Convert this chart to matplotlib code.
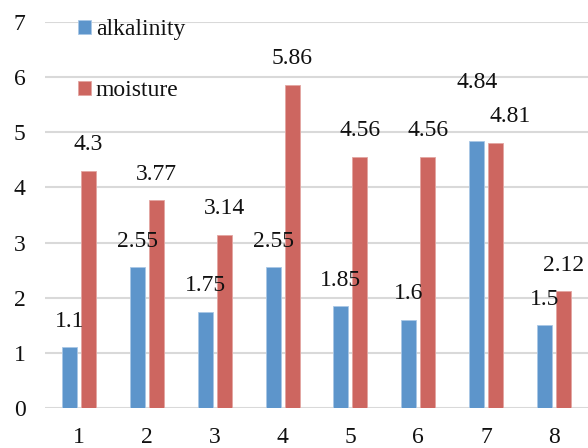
import matplotlib
matplotlib.use("Agg")
import matplotlib.pyplot as plt
import numpy as np

# Data
categories = ["1", "2", "3", "4", "5", "6", "7", "8"]
alkalinity = [1.1, 2.55, 1.75, 2.55, 1.85, 1.6, 4.84, 1.5]
moisture = [4.3, 3.77, 3.14, 5.86, 4.56, 4.56, 4.81, 2.12]
series_names = ["alkalinity", "moisture"]

BLUE = "#5D95CB"
RED = "#CD6660"
GRID = "#D9D9D9"
FONT = "Liberation Serif"
FS = 17

plt.rcParams["font.family"] = [FONT, "DejaVu Serif"]

fig = plt.figure(figsize=(5.88, 4.48), dpi=100)
ax = fig.add_axes([45 / 588, 40 / 448, 543 / 588, 386 / 448])

x = np.arange(1, len(categories) + 1)
off = 0.14
w = 0.22
b1 = ax.bar(x - off, alkalinity, w, color=BLUE, edgecolor="#A9C7E6", linewidth=0.6,
            label=series_names[0], zorder=3)
b2 = ax.bar(x + off, moisture, w, color=RED, edgecolor="#E3A5A1", linewidth=0.6,
            label=series_names[1], zorder=3)

ax.set_xlim(0.5, 8.5)
ax.set_ylim(0, 7)
ax.set_yticks(range(0, 8))
ax.set_xticks(x)
ax.set_xticklabels(categories)
ax.tick_params(axis="both", length=0, labelsize=FS, labelcolor="#111111")
ax.tick_params(axis="y", pad=14)
ax.tick_params(axis="x", pad=14)
for s in ax.spines.values():
    s.set_visible(False)
ax.yaxis.grid(True, color=GRID, linewidth=1.5, zorder=0)
ax.set_axisbelow(True)

# value labels, lifted above each bar; a couple nudged to avoid overlap
lift = 0.47
nudge = {(0, 6): (0.0, 0.6), (1, 6): (0.21, 0.0)}
for si, (vals, sign) in enumerate([(alkalinity, -1), (moisture, 1)]):
    for i, v in enumerate(vals):
        dx, dy = nudge.get((si, i), (0.0, 0.0))
        ax.text(x[i] + sign * off + dx, v + lift + dy, f"{v:g}",
                ha="center", va="center", fontsize=FS, color="#111111", zorder=4)

leg = ax.legend(handles=[b1, b2], loc="upper left",
                bbox_to_anchor=(78 / 588, 1 - 19 / 448), bbox_transform=fig.transFigure,
                frameon=False, fontsize=FS, handlelength=0.55, handleheight=0.55,
                handletextpad=0.2, labelspacing=1.7, borderpad=0, borderaxespad=0)
for t in leg.get_texts():
    t.set_color("#111111")

fig.savefig("out.png", dpi=100)
